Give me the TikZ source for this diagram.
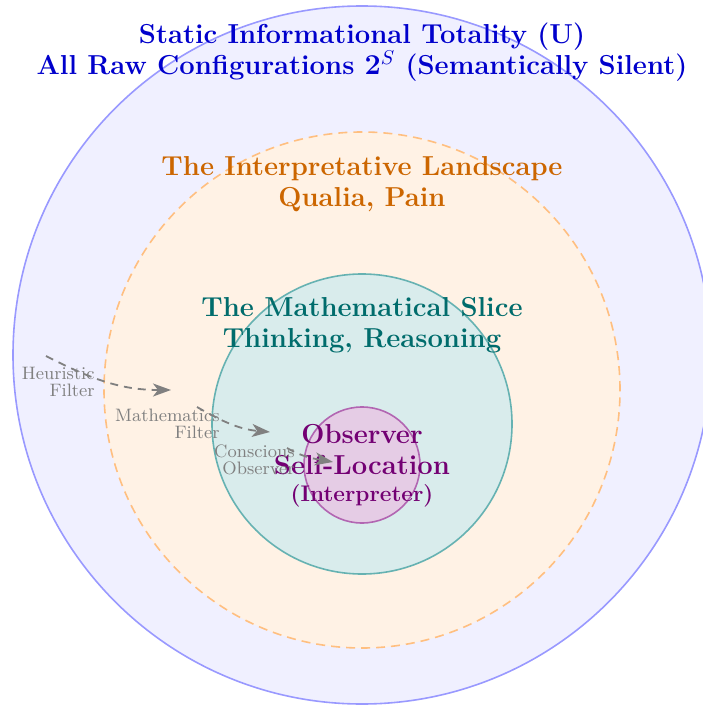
\documentclass[tikz,border=0pt]{standalone}
\usetikzlibrary{arrows.meta}
\begin{document}
\begin{tikzpicture}[x=0.5pt,y=-0.5pt,
  region/.style={circle, inner sep=0pt, line width=0.8pt},
  heading/.style={align=center, font=\fontsize{13.7}{15.5}\selectfont\bfseries},
  filterlabel/.style={align=right, text=gray, inner sep=0pt, font=\fontsize{9}{8.5}\selectfont},
  filterarrow/.style={draw=gray, dash pattern=on 4pt off 3pt, line width=0.9pt,
    -{Stealth[length=9pt,width=6.5pt,inset=2.5pt]}}]
\useasboundingbox (0,0) rectangle (702,705);

% nested regions
\node[region, draw=blue!40, fill=blue!6, minimum size=349pt] (U) at (362,355) {};
\node[region, draw=orange!50, fill=orange!10, dash pattern=on 4.5pt off 3pt, minimum size=258pt] (L) at (362,390) {};
\node[region, draw=teal!60, fill=teal!15, minimum size=150pt] (M) at (362,424) {};
\node[region, draw=violet!60, fill=violet!20, minimum size=58pt] (O) at (362,465) {};

% region headings
\node[heading, text=blue!80!black] (Ut) at (362,52.5)
  {Static Informational Totality (U)\\All Raw Configurations $\mathbf{2}^{S}$ (Semantically Silent)};
\node[heading, text=orange!80!black] (Lt) at (362,184)
  {The Interpretative Landscape\\Qualia, Pain};
\node[heading, text=teal!85!black] (Mt) at (362,325.5)
  {The Mathematical Slice\\Thinking, Reasoning};
\node[heading, text=violet!90!black] (Ot) at (362,449.5)
  {Observer\\Self-Location};
\node[text=violet!90!black, font=\fontsize{11.3}{13}\selectfont\bfseries] (Oi) at (362,496)
  {(Interpreter)};

% filter labels
\node[filterlabel, anchor=north east] (h) at (95,367) {Heuristic\\Filter};
\node[filterlabel, anchor=north east] (m) at (220,409) {Mathematics\\Filter};
\node[filterlabel, anchor=north east] (c) at (295,444) {Conscious\\Observer};

% filter arrows
\coordinate (h0) at (46,356);
\coordinate (h1) at (171,390);
\coordinate (m0) at (197,407);
\coordinate (m1) at (270,432);
\coordinate (c0) at (287,448);
\coordinate (c1) at (333,462);
\draw[filterarrow] (h0) to[out=-27,in=180] (h1);
\draw[filterarrow] (m0) to[out=-30,in=175] (m1);
\draw[filterarrow] (c0) to[out=-30,in=170] (c1);
\end{tikzpicture}
\end{document}
